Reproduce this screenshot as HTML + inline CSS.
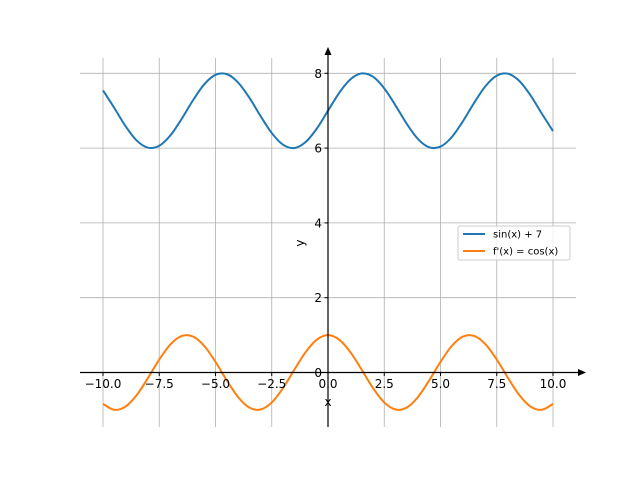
<!DOCTYPE html>
<html><head><meta charset="utf-8"><style>
body{margin:0;background:#fff}
svg text{font-family:"DejaVu Sans","Liberation Sans",sans-serif}
</style></head><body>
<svg id="c" width="640" height="480" xmlns="http://www.w3.org/2000/svg"></svg>
<script>
const xValues=[-10,-9.5,-9,-8.5,-8,-7.5,-7,-6.5,-6,-5.5,-5,-4.5,-4,-3.5,-3,-2.5,-2,-1.5,-1,-0.5,0,0.5,1,1.5,2,2.5,3,3.5,4,4.5,5,5.5,6,6.5,7,7.5,8,8.5,9,9.5,10];
const sinHalf=[0.544,0.075,-0.412,-0.798,-0.989,-0.938,-0.657,-0.215,0.279,0.706,0.959,0.978,0.757,0.351,-0.141,-0.598,-0.909,-0.997,-0.841,-0.479];
const sinSeries=sinHalf.map(v=>v+7).concat([7],sinHalf.slice().reverse().map(v=>7-v));
const cosHalf=[-0.839,-0.997,-0.911,-0.602,-0.146,0.347,0.754,0.977,0.960,0.709,0.284,-0.211,-0.654,-0.936,-0.990,-0.801,-0.416,0.071,0.540,0.878];
const cosSeries=cosHalf.concat([1],cosHalf.slice().reverse());
const xTicks=[-10,-7.5,-5,-2.5,0,2.5,5,7.5,10];
const xTickLabels=["\u221210.0","\u22127.5","\u22125.0","\u22122.5","0.0","2.5","5.0","7.5","10.0"];
const yTicks=[0,2,4,6,8];
const yTickLabels=["0","2","4","6","8"];
const seriesNames=["sin(x) + 7","f'(x) = cos(x)"];

const svg=document.getElementById('c');const NS="http://www.w3.org/2000/svg";
const X=v=>328+v*22.5, Y=v=>372.5-v*37.4;
function mk(t,a,p){const e=document.createElementNS(NS,t);for(const k in a)e.setAttribute(k,a[k]);(p||svg).appendChild(e);return e;}
// grid
xTicks.forEach((t,i)=>{const l=mk('line',{x1:X(t),x2:X(t),y1:58,y2:427,stroke:'#b0b0b0','stroke-width':0.8});

});
yTicks.forEach((t,i)=>{const l=mk('line',{x1:80,x2:576,y1:Y(t),y2:Y(t),stroke:'#b0b0b0','stroke-width':0.8});

});
function curve(ys,color,name){let pts=xValues.map((x,i)=>[X(x),Y(ys[i])]);let d='M'+pts[0].join(',');
for(let i=0;i<pts.length-1;i++){const p0=pts[Math.max(0,i-1)],p1=pts[i],p2=pts[i+1],p3=pts[Math.min(pts.length-1,i+2)];
d+=` C${p1[0]+(p2[0]-p0[0])/6},${p1[1]+(p2[1]-p0[1])/6} ${p2[0]-(p3[0]-p1[0])/6},${p2[1]-(p3[1]-p1[1])/6} ${p2[0]},${p2[1]}`;}
const p=mk('path',{d:d,fill:'none',stroke:color,'stroke-width':2});

}
curve(sinSeries,'#1f77b4','sin-series-line');
curve(cosSeries,'#ff7f0e','cos-series-line');
// axes
const xa=mk('line',{x1:80,x2:580,y1:372.5,y2:372.5,stroke:'#000','stroke-width':1.2});


mk('polygon',{points:'586,372.5 578,369 578,376',fill:'#000'});
const ya=mk('line',{x1:328,x2:328,y1:427,y2:54,stroke:'#000','stroke-width':1.2});


mk('polygon',{points:'328,47 324.5,55 331.5,55',fill:'#000'});
xTicks.forEach((t,i)=>{mk('line',{x1:X(t),x2:X(t),y1:372.5,y2:376,stroke:'#000'});
const tx=mk('text',{x:X(t),y:388,'text-anchor':'middle','font-size':12});tx.textContent=xTickLabels[i];

});
yTicks.forEach((t,i)=>{mk('line',{x1:324.5,x2:328,y1:Y(t),y2:Y(t),stroke:'#000'});
const tx=mk('text',{x:322,y:Y(t)+4.5,'text-anchor':'end','font-size':12});tx.textContent=yTickLabels[i];

});
const xl=mk('text',{x:328,y:406,'text-anchor':'middle','font-size':12});xl.textContent='x';


const yl=mk('text',{x:304,y:243,'text-anchor':'middle','font-size':12,transform:'rotate(-90 304 243)'});yl.textContent='y';


// legend
const lg=mk('g',{});


mk('rect',{x:458,y:226,width:112,height:34,rx:2,fill:'#fff','fill-opacity':0.8,stroke:'#ccc'},lg);
['#1f77b4','#ff7f0e'].forEach((c,i)=>{const y=234+i*17;
mk('line',{x1:463,x2:485,y1:y,y2:y,stroke:c,'stroke-width':2},lg);
const t=mk('text',{x:493,y:y+3.5,'font-size':10},lg);t.textContent=seriesNames[i];

});
</script>
</body></html>
